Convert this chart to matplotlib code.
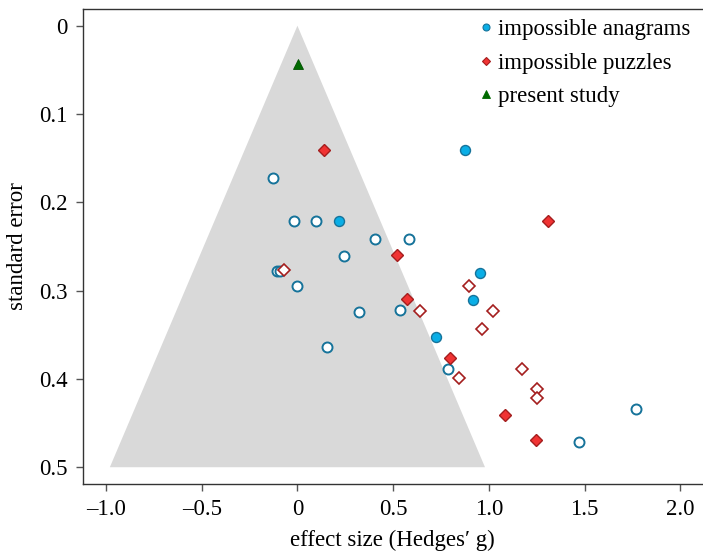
import matplotlib
matplotlib.use("Agg")
import matplotlib.pyplot as plt
from matplotlib.ticker import FuncFormatter

plt.rcParams['font.family'] = ['Liberation Serif', 'DejaVu Serif']
plt.rcParams['mathtext.fontset'] = 'stix'

# impossible anagrams (filled = one subgroup, open = other)
anag_filled_g = [0.217, 0.877, 0.952, 0.917, 0.724]
anag_filled_se = [0.221, 0.141, 0.280, 0.311, 0.352]
anag_open_g = [-0.129, -0.019, 0.099, 0.405, 0.245, -0.108, -0.091, 0.0, 0.323,
               0.155, 0.583, 0.534, 0.785, 1.769, 1.473]
anag_open_se = [0.172, 0.221, 0.221, 0.242, 0.261, 0.278, 0.278, 0.295, 0.324,
                0.364, 0.242, 0.322, 0.389, 0.434, 0.471]
# impossible puzzles
puz_filled_g = [0.139, 1.308, 0.520, 0.571, 0.796, 1.086, 1.247]
puz_filled_se = [0.141, 0.221, 0.260, 0.310, 0.376, 0.441, 0.469]
puz_open_g = [-0.068, 0.897, 0.641, 1.022, 0.963, 0.843, 1.175, 1.253, 1.250]
puz_open_se = [0.277, 0.295, 0.323, 0.323, 0.343, 0.399, 0.389, 0.411, 0.422]
# present study
present_g = [0.005]
present_se = [0.043]

funnel_se_max = 0.5
z = 1.96

x_ticks = [-1.0, -0.5, 0, 0.5, 1.0, 1.5, 2.0]
y_ticks = [0, 0.1, 0.2, 0.3, 0.4, 0.5]

fig = plt.figure(figsize=(7.03, 5.53), dpi=100)
ax = fig.add_axes([0.1176, 0.1248, 0.8824, 0.8595])

ax.fill([0, -z * funnel_se_max, z * funnel_se_max],
        [0, funnel_se_max, funnel_se_max], color='#d9d9d9', lw=0, zorder=1)

blue_fill = '#0aaee6'
blue_edge = '#16739a'
red_fill = '#f03333'
red_edge = '#a41e1e'

ax.plot(anag_open_g, anag_open_se, 'o', ms=7.2, mfc='white', mec=blue_edge, mew=1.4,
        ls='none', zorder=3)
ax.plot(anag_filled_g, anag_filled_se, 'o', ms=7.2, mfc=blue_fill, mec=blue_edge, mew=1.0,
        ls='none', zorder=3)
ax.plot(puz_open_g, puz_open_se, 'D', ms=6.3, mfc='white', mec=red_edge, mew=1.2,
        ls='none', zorder=3)
ax.plot(puz_filled_g, puz_filled_se, 'D', ms=6.3, mfc=red_fill, mec=red_edge, mew=1.0,
        ls='none', zorder=3)
ax.plot(present_g, present_se, '^', ms=7.5, mfc='#006a00', mec='#005000', mew=0.6,
        ls='none', zorder=4)

# legend handles
h1, = ax.plot([], [], 'o', ms=5, mfc=blue_fill, mec=blue_edge, mew=0.8, ls='none')
h2, = ax.plot([], [], 'D', ms=4.5, mfc=red_fill, mec=red_edge, mew=0.8, ls='none')
h3, = ax.plot([], [], '^', ms=5.5, mfc='#006a00', mec='#006a00', mew=0.6, ls='none')
leg = ax.legend([h1, h2, h3], ['impossible anagrams', 'impossible puzzles', 'present study'],
                loc='upper right', bbox_to_anchor=(0.997, 1.0), frameon=False, fontsize=16.5,
                handletextpad=0.0, handlelength=1.1, labelspacing=0.55, borderaxespad=0.05)

ax.set_xlim(-1.122, 2.119)
ax.set_ylim(0.519, -0.0193)
ax.set_xticks(x_ticks)
ax.set_yticks(y_ticks)

def fmt(v, pos):
    if abs(v) < 1e-9:
        return '0'
    s = f'{v:.1f}'
    return s.replace('-', '\u2013')

ax.xaxis.set_major_formatter(FuncFormatter(fmt))
ax.yaxis.set_major_formatter(FuncFormatter(fmt))
ax.tick_params(direction='out', length=5, width=1, color='#555555', labelsize=16.5, pad=6)
ax.spines['right'].set_visible(False)
for s in ['left', 'bottom', 'top']:
    ax.spines[s].set_linewidth(1.0)
    ax.spines[s].set_color('#333333')

ax.set_xlabel('effect size (Hedges\u2032 g)', fontsize=16.5, labelpad=7)
ax.set_ylabel('standard error', fontsize=16.5, labelpad=8)

fig.savefig('out.png', dpi=100)
